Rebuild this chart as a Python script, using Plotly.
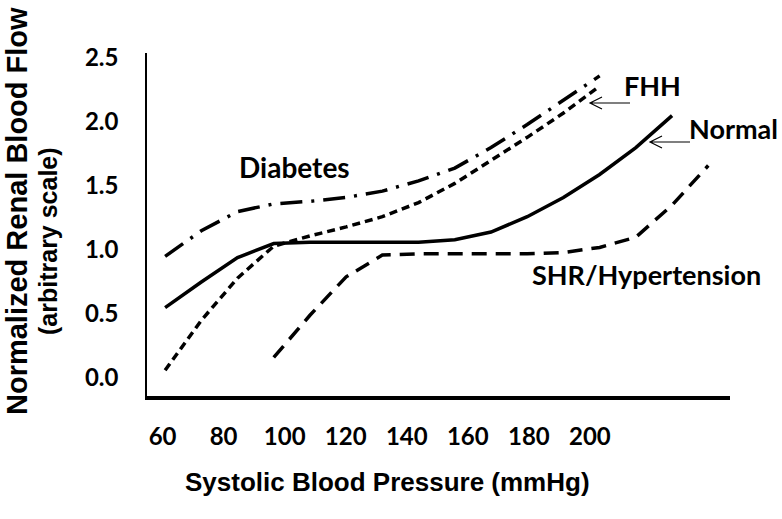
import plotly.graph_objects as go

# ---- data ----
normal_x = [60, 70, 80, 90, 100, 110, 120, 130, 140, 150, 160, 170, 180, 190, 200]
normal_y = [0.55, 0.75, 0.94, 1.05, 1.06, 1.06, 1.06, 1.06, 1.08, 1.14, 1.26, 1.41, 1.59, 1.80, 2.05]

fhh_x = [60, 70, 80, 90, 100, 110, 120, 130, 140, 150, 160, 170, 180]
fhh_y = [0.06, 0.45, 0.78, 1.03, 1.11, 1.18, 1.26, 1.37, 1.52, 1.70, 1.88, 2.07, 2.28]

diabetes_x = [60, 70, 80, 90, 100, 110, 120, 130, 140, 150, 160, 170, 180]
diabetes_y = [0.95, 1.15, 1.30, 1.36, 1.38, 1.41, 1.46, 1.54, 1.64, 1.80, 1.98, 2.17, 2.36]

shr_x = [90, 100, 110, 120, 130, 140, 150, 160, 170, 180, 190, 200, 210]
shr_y = [0.16, 0.49, 0.79, 0.96, 0.97, 0.97, 0.97, 0.97, 0.98, 1.02, 1.10, 1.35, 1.66]

x_tick_labels = [60, 80, 100, 120, 140, 160, 180, 200]
y_tick_vals = [0.0, 0.5, 1.0, 1.5, 2.0, 2.5]
y_tick_text = ["0.0", "0.5", "1.0", "1.5", "2.0", "2.5"]

LABEL_FONT = "Lato"
TITLE_FONT = "Liberation Sans"

W, H = 782, 519
PLOT_L, PLOT_R, PLOT_T, PLOT_B = 147, 730, 53, 396

fig = go.Figure()

fig.add_trace(go.Scatter(x=normal_x, y=normal_y, mode="lines", name="Normal",
                         line=dict(color="black", width=3.5)))
fig.add_trace(go.Scatter(x=fhh_x, y=fhh_y, mode="lines", name="FHH",
                         line=dict(color="black", width=3.5, dash="8px,5px")))
fig.add_trace(go.Scatter(x=diabetes_x, y=diabetes_y, mode="lines", name="Diabetes",
                         line=dict(color="black", width=3.5, dash="22px,9px,3px,9px")))
fig.add_trace(go.Scatter(x=shr_x, y=shr_y, mode="lines", name="SHR/Hypertension",
                         line=dict(color="black", width=3.5, dash="15px,9px")))
# carrier for the tick-label axis
fig.add_trace(go.Scatter(x=x_tick_labels, y=[None] * len(x_tick_labels), xaxis="x2",
                         mode="lines", showlegend=False, hoverinfo="skip"))

fig.update_layout(
    width=W, height=H,
    margin=dict(l=PLOT_L, r=W - PLOT_R, t=PLOT_T, b=H - PLOT_B, pad=0),
    paper_bgcolor="white", plot_bgcolor="white",
    showlegend=False,
    xaxis=dict(range=[55, 216], showgrid=False, zeroline=False,
               showline=True, linecolor="black", linewidth=4,
               showticklabels=False, ticks=""),
    xaxis2=dict(range=[54.9, 245.9], overlaying="x", side="bottom", anchor="y",
                showgrid=False, zeroline=False, showline=False, ticks="",
                tickmode="array", tickvals=x_tick_labels,
                ticktext=[str(v) for v in x_tick_labels],
                tickfont=dict(family=LABEL_FONT, size=24, color="black", weight="bold"),
                ticklabelstandoff=24),
    yaxis=dict(range=[-0.141, 2.539], showgrid=False, zeroline=False,
               showline=True, linecolor="black", linewidth=1.5, ticks="",
               tickmode="array", tickvals=y_tick_vals, ticktext=y_tick_text,
               tickfont=dict(family=LABEL_FONT, size=24, color="black", weight="bold"),
               ticklabelstandoff=22),
)

def px_to_paper(px, py):
    """screen pixel (reference picture) -> paper coordinates"""
    return (px - PLOT_L) / (PLOT_R - PLOT_L), (PLOT_B - py) / (PLOT_B - PLOT_T)

annos = []
def add_text(txt, px, py, size, family, angle=0):
    x, y = px_to_paper(px, py)
    annos.append(dict(text=txt, x=x, y=y, xref="paper", yref="paper", showarrow=False,
                      xanchor="center", yanchor="middle", textangle=angle,
                      font=dict(family=family, size=size, color="black", weight="bold")))

# axis titles
add_text("Systolic Blood Pressure (mmHg)", 387, 482, 26, TITLE_FONT)
add_text("Normalized Renal Blood Flow", 17, 211, 29, TITLE_FONT, -90)
add_text("(arbitrary scale)", 48, 241, 25, TITLE_FONT, -90)

# curve labels
add_text("Diabetes", 294, 167, 28, LABEL_FONT)
add_text("FHH", 652, 85, 27, LABEL_FONT)
add_text("Normal", 733, 128, 27, LABEL_FONT)
add_text("SHR/Hypertension", 646, 274, 27, LABEL_FONT)

fig.update_layout(annotations=annos)

# thin open pointer arrows: (head x, head y, tail x)
shapes = []
for hx, hy, tx in [(590, 103, 630), (650, 142, 690)]:
    x0, y0 = px_to_paper(hx, hy)
    x1, _ = px_to_paper(tx, hy)
    xa, ya = px_to_paper(hx + 12, hy - 6)
    _, yb = px_to_paper(hx + 12, hy + 6)
    path = f"M{x1},{y0} L{x0},{y0} M{xa},{ya} L{x0},{y0} L{xa},{yb}"
    shapes.append(dict(type="path", path=path, xref="paper", yref="paper",
                       line=dict(color="black", width=1.2)))
fig.update_layout(shapes=shapes)

# remove the browser's default body margin so the figure fills the window
fig.write_html("out.html", config={"displayModeBar": False},
               post_script="document.body.style.margin='0px';")
